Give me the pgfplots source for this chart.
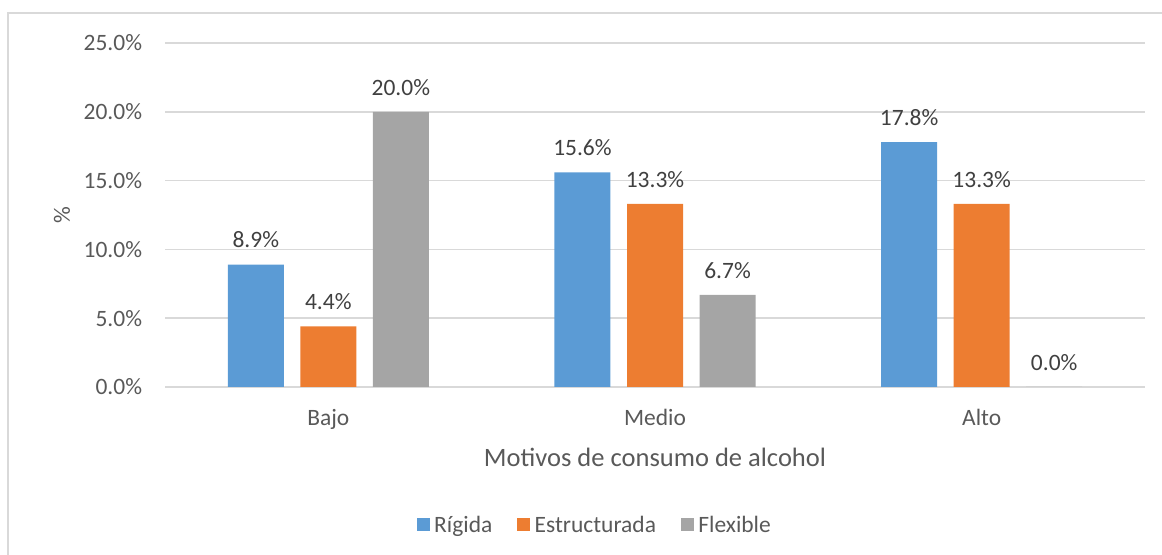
\documentclass[border=0pt]{standalone}
\usepackage{fontspec}
\setmainfont{Carlito}
\usepackage{pgfplots}
\pgfplotsset{compat=1.18}
\definecolor{cBlue}{HTML}{5B9BD5}
\definecolor{cOrange}{HTML}{ED7D31}
\definecolor{cGray}{HTML}{A5A5A5}
\definecolor{gridc}{HTML}{D9D9D9}
\definecolor{txt}{HTML}{595959}
\definecolor{lbl}{HTML}{404040}
\newcommand{\tickfont}{\fontsize{17.6}{21}\selectfont}
\newcommand{\titlefont}{\fontsize{19.9}{24}\selectfont}
\begin{document}
\begin{tikzpicture}
\path[use as bounding box] (0pt,0pt) rectangle (871.5pt,416.25pt);
\draw[color=gridc, line width=1.2pt] (6pt,0pt) -- (6pt,406.5pt) -- (871.5pt,406.5pt);
\begin{axis}[
  at={(123.75pt,126pt)}, anchor=south west,
  scale only axis, width=735pt, height=258pt,
  xmin=-0.5, xmax=2.5, ymin=0, ymax=25,
  ytick={0,5,10,15,20,25},
  xtick={0,1,2}, xticklabels={Bajo,Medio,Alto},
  /pgf/number format/assume math mode=true,
  yticklabel={\pgfmathprintnumber[fixed,fixed zerofill,precision=1]{\tick}\%},
  ymajorgrids, grid style={color=gridc, line width=1.1pt},
  axis x line*=bottom, axis y line*=left,
  x axis line style={color=gridc, line width=1.1pt, -},
  y axis line style={draw=none},
  major tick length=0pt,
  tick label style={font=\tickfont, color=txt},
  yticklabel style={anchor=east, inner sep=0pt, xshift=-17pt},
  xticklabel style={anchor=base, inner sep=0pt, yshift=-29pt},
  xlabel={Motivos de consumo de alcohol},
  xlabel style={at={(axis description cs:0.5,0)}, anchor=base, yshift=-59.6pt, font=\titlefont, color=txt, inner sep=0pt},
  ylabel={\%},
  ylabel style={at={(axis description cs:-0.1051,0.5)}, anchor=center, font=\tickfont, color=txt, inner sep=0pt},
  ybar, bar width=42pt,
  nodes near coords={\pgfmathprintnumber[fixed,fixed zerofill,precision=1]{\pgfplotspointmeta}\%},
  every node near coord/.append style={font=\tickfont, color=lbl, anchor=base, inner sep=0pt, yshift=12.4pt},
  legend columns=-1,
  legend style={at={(axis description cs:0.4398,-0.401)}, anchor=center, draw=none, fill=none, font=\tickfont, text=txt,
    nodes={inner xsep=3.5pt, inner ysep=1pt},
    /tikz/every even column/.append style={column sep=15pt}},
  legend image code/.code={\fill[#1] (0pt,-4.9pt) rectangle (9.75pt,4.9pt);},
]
\addplot[fill=cBlue, draw=none, bar shift=-54.4pt] coordinates {(0,8.9) (1,15.6) (2,17.8)};
\addplot[fill=cOrange, draw=none, bar shift=0pt] coordinates {(0,4.4) (1,13.3) (2,13.3)};
\addplot[fill=cGray, draw=none, bar shift=54.4pt] coordinates {(0,20.0) (1,6.7) (2,0.0)};
\legend{Rígida,Estructurada,Flexible}
\end{axis}
\end{tikzpicture}
\end{document}
